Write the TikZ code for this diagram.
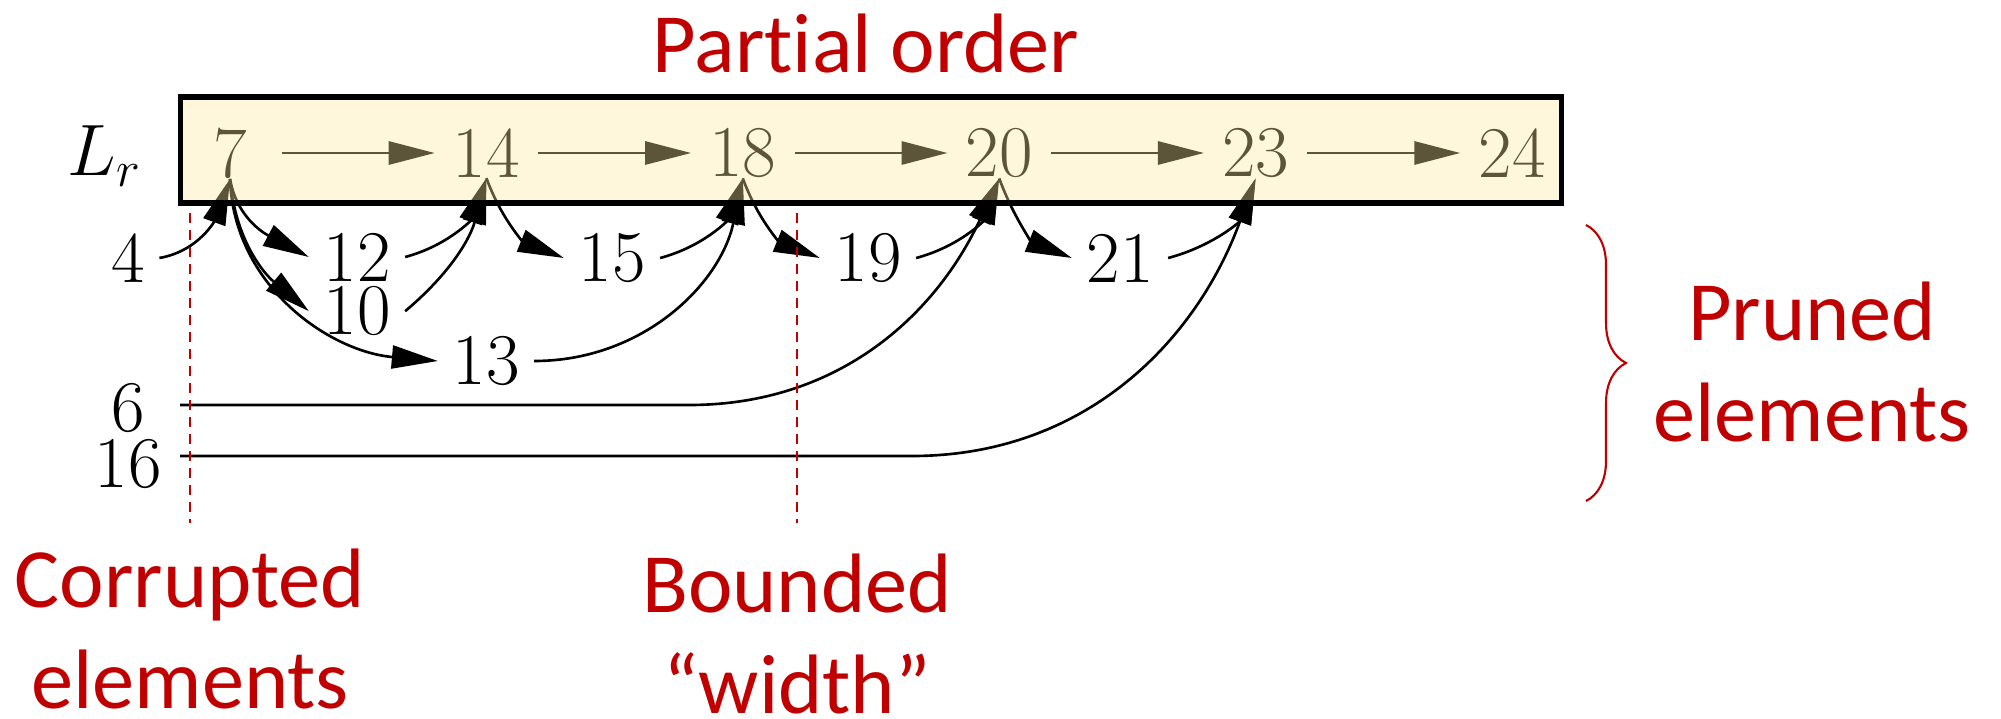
\documentclass[tikz,border=0pt]{standalone}
\usepackage{fontspec}
\usepackage{tikz}
\usetikzlibrary{arrows.meta,positioning,calc,fit,decorations.pathreplacing}
\newfontfamily\calibri[Ligatures=NoCommon]{Carlito}
\definecolor{accent}{RGB}{192,0,0}
\definecolor{listfill}{RGB}{254,232,157}

\begin{document}
\begin{tikzpicture}[
        node distance=1.53cm,
        num/.style={
          inner sep=0pt,
          inner xsep=0.14cm,
          font=\fontsize{20.74}{25}\selectfont
        },
        listnum/.style={num, minimum width=1.02cm},
        link/.style={-{Triangle[length=0.46cm,width=0.23cm]}, line width=0.75pt},
        note/.style={
          text=accent,
          align=center,
          inner sep=0pt,
          font=\calibri\fontsize{24}{28.7}\selectfont
        },
        guide/.style={accent, line width=0.6pt, dash pattern=on 0.1cm off 0.07cm},
        listbox/.style={draw, line width=1.45pt, fill=listfill, fill opacity=0.37}
      ]
        \useasboundingbox (0,0) rectangle (20.01,-7.19);

        \node[note, anchor=base] (title) at (8.66,-0.73) {Part\kern0pt ial order};

        \node[listnum] (n7) at (2.30,-1.53) {7};
        \node[listnum, right=of n7] (n14) {14};
        \node[listnum, right=of n14] (n18) {18};
        \node[listnum, right=of n18] (n20) {20};
        \node[listnum, right=of n20] (n23) {23};
        \node[listnum, right=of n23] (n24) {24};
        \node[num, anchor=base] (lr) at (1.05,-1.76) {$L_r$};

        \node[num] (n4) at (1.28,-2.58) {4};
        \node[num] (n12) at (3.57,-2.57) {12};
        \node[num, below=0.04cm of n12] (n10) {10};
        \node[num] (n15) at (6.12,-2.58) {15};
        \node[num] (n19) at (8.68,-2.58) {19};
        \node[num] (n21) at (11.20,-2.58) {21};
        \node[num] (n13) at (4.86,-3.61) {13};
        \node[num] (n6) at (1.28,-4.08) {6};
        \node[num, below=0.05cm of n6] (n16) {16};

        \draw[link, line width=0.85pt] (n7) -- (n14);
        \draw[link, line width=0.85pt] (n14) -- (n18);
        \draw[link, line width=0.85pt] (n18) -- (n20);
        \draw[link, line width=0.85pt] (n20) -- (n23);
        \draw[link, line width=0.85pt] (n23) -- (n24);

        \draw[link] (n4.east) to[out=10, in=-110] (n7.south);
        \draw[link] (n7.south) to[out=-80, in=152] (n12.west);
        \draw[link] (n7.south) to[out=-85, in=140] (n10.west);
        \draw[link] (n7.south) to[out=-88, in=175] (n13.west);
        \draw[link] (n12.east) to[out=15, in=-110] (n14.south);
        \draw[link] (n10.east) to[out=40, in=-105] (n14.south);
        \draw[link] (n14.south) to[out=-70, in=158] (n15.west);
        \draw[link] (n15.east) to[out=15, in=-110] (n18.south);
        \draw[link] (n13.east) to[out=0, in=-102] (n18.south);
        \draw[link] (n18.south) to[out=-70, in=158] (n19.west);
        \draw[link] (n19.east) to[out=15, in=-110] (n20.south);
        \draw[link] (n20.south) to[out=-70, in=158] (n21.west);
        \draw[link] (n21.east) to[out=15, in=-110] (n23.south);

        \coordinate (s6) at (1.80,-4.05);
        \coordinate (k6) at (6.89,-4.05);
        \draw[link] (s6) -- (k6) to[out=0, in=-115] (n20.south);
        \coordinate (s16) at (1.80,-4.56);
        \coordinate (k16) at (9.12,-4.56);
        \draw[link] (s16) -- (k16) to[out=0, in=-110] (n23.south);

        \node[listbox, fit=(n7)(n24), inner xsep=-0.02cm, inner ysep=0.27cm, yshift=0.03cm] (list) {};

        \draw[guide] (1.90,-2.13) -- (1.90,-5.23);
        \draw[guide] (7.97,-2.13) -- (7.97,-5.23);

        \draw[accent, line width=0.6pt, decorate, decoration={brace, amplitude=0.4cm}]
          (15.86,-2.25) -- (15.86,-5.01);

        \node[note, anchor=base] (corrupt) at (1.90,-7.08) {Corrupted\\elements};
        \node[note, anchor=base] (bounded) at (7.97,-7.13) {Bounded\\“width”};
        \node[note, anchor=base] (pruned) at (18.12,-4.41) {Pruned\\elements};

      \end{tikzpicture}
\end{document}
